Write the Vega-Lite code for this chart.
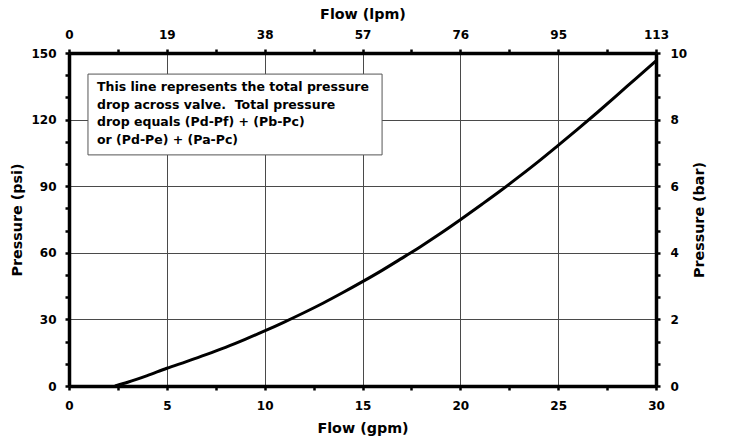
{
  "$schema": "https://vega.github.io/schema/vega-lite/v6.json",
  "width": 587,
  "height": 333,
  "autosize": {"type": "none"},
  "padding": {"left": 69, "top": 53, "right": 73, "bottom": 56},
  "background": "white",
  "config": {
    "view": {"stroke": null},
    "font": "DejaVu Sans",
    "axis": {
      "labelFont": "DejaVu Sans",
      "labelFontWeight": "bold",
      "labelFontSize": 12,
      "labelColor": "black",
      "titleFont": "DejaVu Sans",
      "titleFontWeight": "bold",
      "titleFontSize": 14.3,
      "titleColor": "black",
      "domainColor": "black",
      "domainWidth": 3.5,
      "tickColor": "black",
      "tickWidth": 2.5,
      "tickSize": 4,
      "gridColor": "#4a4a4a",
      "gridWidth": 1,
      "labelFlush": false,
      "labelOverlap": false,
      "labelBound": false
    },
    "axisY": {"labelOverlap": false},
    "axisLeft": {"labelOverlap": false},
    "axisQuantitative": {"labelOverlap": false}
  },
  "datasets": {
    "curve": [
      {"gpm": 2.35, "psi": 0},
      {"gpm": 3, "psi": 1.7},
      {"gpm": 4, "psi": 4.7},
      {"gpm": 5, "psi": 8.0},
      {"gpm": 6, "psi": 11.0},
      {"gpm": 7, "psi": 14.1},
      {"gpm": 8, "psi": 17.4},
      {"gpm": 9, "psi": 21.0},
      {"gpm": 10, "psi": 24.8},
      {"gpm": 11, "psi": 28.8},
      {"gpm": 12, "psi": 33.0},
      {"gpm": 13, "psi": 37.4},
      {"gpm": 14, "psi": 42.1},
      {"gpm": 15, "psi": 47.0},
      {"gpm": 16, "psi": 52.1},
      {"gpm": 17, "psi": 57.5},
      {"gpm": 18, "psi": 63.0},
      {"gpm": 19, "psi": 68.8},
      {"gpm": 20, "psi": 74.9},
      {"gpm": 21, "psi": 81.2},
      {"gpm": 22, "psi": 87.6},
      {"gpm": 23, "psi": 94.3},
      {"gpm": 24, "psi": 101.2},
      {"gpm": 25, "psi": 108.4},
      {"gpm": 26, "psi": 115.7},
      {"gpm": 27, "psi": 123.2},
      {"gpm": 28, "psi": 130.9},
      {"gpm": 29, "psi": 138.7},
      {"gpm": 30, "psi": 146.4}
    ],
    "box": [{"x1": 0.97, "x2": 16.0, "y1": 104.1, "y2": 140.5}],
    "note": [
      {"x": 1.43, "y": 134.7, "text": "This line represents the total pressure"},
      {"x": 1.43, "y": 126.8, "text": "drop across valve.\u00a0 Total pressure"},
      {"x": 1.43, "y": 118.9, "text": "drop equals (Pd-Pf) + (Pb-Pc)"},
      {"x": 1.43, "y": 111.0, "text": "or (Pd-Pe) + (Pa-Pc)"}
    ]
  },
  "layer": [
    {
      "encoding": {
        "x": {
          "type": "quantitative",
          "scale": {"domain": [0, 30], "nice": false, "zero": false},
          "axis": {
            "orient": "bottom",
            "title": "Flow (gpm)",
            "values": [0, 2.5, 5, 7.5, 10, 12.5, 15, 17.5, 20, 22.5, 25, 27.5, 30],
            "labelExpr": "datum.value % 5 === 0 ? datum.label : ''",
            "labelOverlap": false,
            "grid": true,
            "gridOpacity": {"condition": {"test": "datum.value % 5 === 0 && datum.value > 0 && datum.value < 30", "value": 1}, "value": 0},
            "labelPadding": 10,
            "titlePadding": 10
          }
        },
        "y": {
          "type": "quantitative",
          "scale": {"domain": [0, 150], "nice": false, "zero": false},
          "axis": {
            "orient": "left",
            "title": "Pressure (psi)",
            "values": [0, 10, 20, 30, 40, 50, 60, 70, 80, 90, 100, 110, 120, 130, 140, 150],
            "labelExpr": "datum.value % 30 === 0 ? format(datum.value, 'd') : ''",
            "labelOverlap": false,
            "grid": true,
            "gridOpacity": {"condition": {"test": "datum.value % 30 === 0 && datum.value > 0 && datum.value < 150", "value": 1}, "value": 0},
            "labelPadding": 9,
            "titlePadding": 6
          }
        }
      },
      "layer": [
        {
          "data": {"name": "box"},
          "mark": {"type": "rect", "fill": "white", "stroke": "#555555", "strokeWidth": 1},
          "encoding": {
            "x": {"field": "x1"},
            "x2": {"field": "x2"},
            "y": {"field": "y1"},
            "y2": {"field": "y2"}
          }
        },
        {
          "data": {"name": "note"},
          "mark": {"type": "text", "align": "left", "baseline": "middle", "font": "DejaVu Sans", "fontWeight": "bold", "fontSize": 12.5, "color": "black"},
          "encoding": {
            "x": {"field": "x"},
            "y": {"field": "y"},
            "text": {"field": "text"}
          }
        },
        {
          "data": {"name": "curve"},
          "mark": {"type": "line", "color": "black", "strokeWidth": 3, "interpolate": "monotone"},
          "encoding": {
            "x": {"field": "gpm"},
            "y": {"field": "psi"}
          }
        }
      ]
    },
    {
      "data": {"name": "curve"},
      "mark": {"type": "point", "opacity": 0},
      "encoding": {
        "x": {
          "field": "gpm", "type": "quantitative",
          "scale": {"domain": [0, 30], "nice": false, "zero": false},
          "axis": {
            "orient": "top",
            "title": "Flow (lpm)",
            "values": [0, 2.5, 5, 7.5, 10, 12.5, 15, 17.5, 20, 22.5, 25, 27.5, 30],
            "labelExpr": "datum.value % 5 === 0 ? ['0','19','38','57','76','95','113'][datum.value / 5] : ''",
            "labelOverlap": false,
            "grid": false,
            "labelPadding": 8,
            "titlePadding": 7
          }
        },
        "y": {
          "field": "psi", "type": "quantitative",
          "scale": {"domain": [0, 150], "nice": false, "zero": false},
          "axis": {
            "orient": "right",
            "title": "Pressure (bar)",
            "titleAngle": 270,
            "values": [0, 10, 20, 30, 40, 50, 60, 70, 80, 90, 100, 110, 120, 130, 140, 150],
            "labelExpr": "datum.value % 30 === 0 ? format(datum.value / 15, 'd') : ''",
            "labelOverlap": false,
            "grid": false,
            "labelPadding": 10,
            "titlePadding": 20
          }
        }
      }
    }
  ],
  "resolve": {"scale": {"x": "independent", "y": "independent"}}
}
